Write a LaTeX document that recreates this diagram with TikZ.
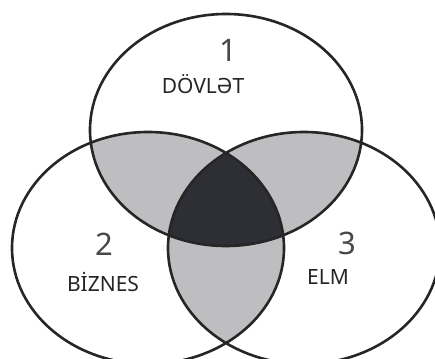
\documentclass[tikz,border=0pt]{standalone}
\usepackage{fontspec}
\setmainfont{Noto Sans}
\definecolor{lensgray}{RGB}{190,190,192}
\definecolor{coredark}{RGB}{45,47,52}
\definecolor{numgray}{RGB}{72,72,74}
\newcommand{\ringtop}{(226,228) ellipse [x radius=136pt, y radius=116pt]}
\newcommand{\ringleft}{(148,110) ellipse [x radius=136pt, y radius=116pt]}
\newcommand{\ringright}{(304,110) ellipse [x radius=136pt, y radius=116pt]}
\begin{document}
\begin{tikzpicture}[x=1pt,y=1pt,
  ring/.style={draw=black!85, line width=2.6pt},
  num/.style={font=\fontsize{31}{31}\selectfont, text=numgray},
  lbl/.style={font=\fontsize{21}{21}\selectfont, text=black!85}]
\useasboundingbox (0,0) rectangle (435,358);
% pairwise overlaps
\begin{scope}
  \clip \ringtop;
  \fill[lensgray] \ringleft;
  \fill[lensgray] \ringright;
\end{scope}
\begin{scope}
  \clip \ringleft;
  \fill[lensgray] \ringright;
\end{scope}
% common part
\begin{scope}
  \clip \ringtop;
  \clip \ringleft;
  \fill[coredark] \ringright;
\end{scope}
% outlines
\draw[ring] \ringtop;
\draw[ring] \ringleft;
\draw[ring] \ringright;
% labels
\node[num] (n1) at (228,308) {1};
\node[lbl] (dovlet) at (203,274) {DÖVLƏT};
\node[num] (n2) at (104,114) {2};
\node[lbl] (biznes) at (103,76) {BİZNES};
\node[num] (n3) at (347,115) {3};
\node[lbl] (elm) at (328,81) {ELM};
\end{tikzpicture}
\end{document}
